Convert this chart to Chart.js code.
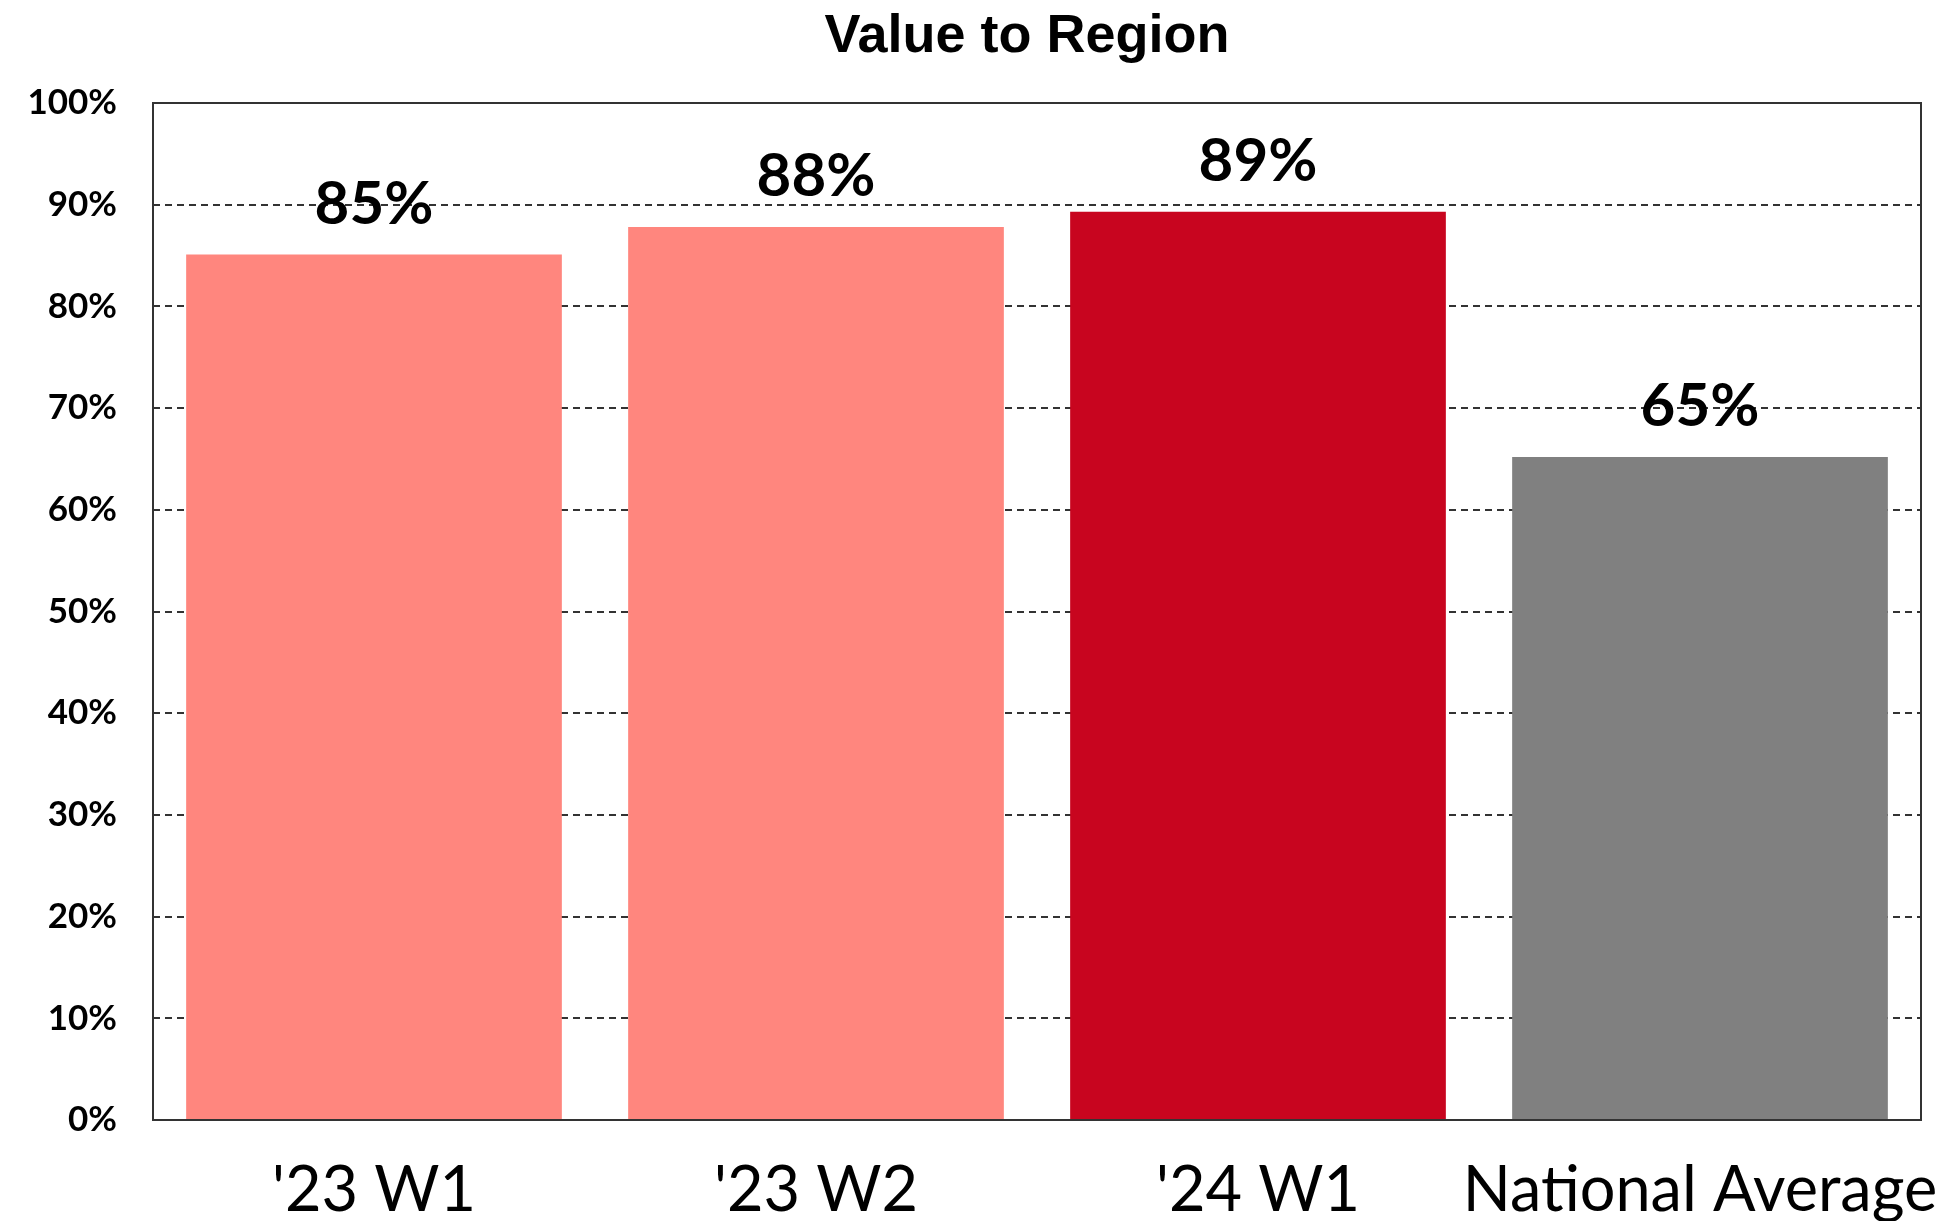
<!DOCTYPE html>
<html>
<head>
<meta charset="utf-8">
<title>Value to Region</title>
<script src="https://cdn.jsdelivr.net/npm/chart.js@4.4.1/dist/chart.umd.min.js"></script>
<style>
  html, body { margin: 0; padding: 0; background: #ffffff; }
  #wrap { width: 1947px; height: 1221px; }
</style>
</head>
<body>
<div id="wrap"><canvas id="valueChart" width="1947" height="1221"></canvas></div>
<script>
// Data
const categories = ["'23 W1", "'23 W2", "'24 W1", "National Average"];
const values = [85.1, 87.8, 89.3, 65.2];
const valueLabels = ["85%", "88%", "89%", "65%"];
const yTicks = [0, 10, 20, 30, 40, 50, 60, 70, 80, 90, 100];
const chartTitle = "Value to Region";

const barColors = ["#FF867E", "#FF867E", "#C8051F", "#808080"];

// Title centred a little left of the plot centre, like the original
const titlePlugin = {
  id: "titlePlugin",
  afterDraw(chart) {
    const { ctx } = chart;
    ctx.save();
    ctx.font = "bold 54px 'Liberation Sans'";
    ctx.fillStyle = "#000000";
    ctx.textAlign = "center";
    ctx.textBaseline = "middle";
    ctx.fillText(chartTitle, 1027, 37);
    ctx.restore();
  },
};

// Frame around the plot area
const frameBox = {
  id: "frameBox",
  afterDatasetsDraw(chart) {
    const { ctx, chartArea } = chart;
    ctx.save();
    ctx.strokeStyle = "#333333";
    ctx.lineWidth = 2;
    ctx.strokeRect(chartArea.left, chartArea.top, chartArea.right - chartArea.left, chartArea.bottom - chartArea.top);
    ctx.restore();
  },
};

// Value labels above each bar
const barLabels = {
  id: "barLabels",
  afterDatasetsDraw(chart) {
    const { ctx } = chart;
    const meta = chart.getDatasetMeta(0);
    ctx.save();
    ctx.font = "bold 60px Lato";
    ctx.fillStyle = "#000000";
    ctx.textAlign = "center";
    ctx.textBaseline = "alphabetic";
    meta.data.forEach(function (bar, i) {
      ctx.fillText(valueLabels[i], bar.x, bar.y - 31);
    });
    ctx.restore();
  },
};

const ctx = document.getElementById("valueChart").getContext("2d");
new Chart(ctx, {
  type: "bar",
  data: {
    labels: categories,
    datasets: [
      {
        label: chartTitle,
        data: values,
        backgroundColor: barColors,
        borderWidth: 0,
        barPercentage: 1,
        categoryPercentage: 0.85,
      },
    ],
  },
  options: {
    responsive: false,
    animation: false,
    layout: { padding: { left: 0, right: 26, top: 103, bottom: 0 } },
    plugins: {
      legend: { display: false },
      tooltip: { enabled: false },
      title: { display: false },
    },
    scales: {
      x: {
        grid: { display: false, drawTicks: false },
        border: { display: false },
        ticks: {
          color: "#000000",
          font: { family: "Lato", size: 63 },
          padding: 33,
          maxRotation: 0,
          autoSkip: false,
        },
        afterFit(scale) {
          scale.height = 101;
          scale.paddingLeft = 0;
          scale.paddingRight = 0;
        },
      },
      y: {
        min: 0,
        max: 100,
        afterBuildTicks(scale) {
          scale.ticks = yTicks.map(function (v) { return { value: v }; });
        },
        grid: {
          color: "#333333",
          lineWidth: 2,
          drawTicks: false,
        },
        border: { display: false, dash: [7, 5] },
        ticks: {
          color: "#000000",
          font: { family: "Lato", size: 35, weight: "bold" },
          padding: 36,
          callback: function (v) { return v + "%"; },
        },
        afterFit(scale) {
          scale.width = 153;
          scale.paddingTop = 0;
          scale.paddingBottom = 0;
        },
      },
    },
  },
  plugins: [frameBox, barLabels, titlePlugin],
});
</script>
</body>
</html>
